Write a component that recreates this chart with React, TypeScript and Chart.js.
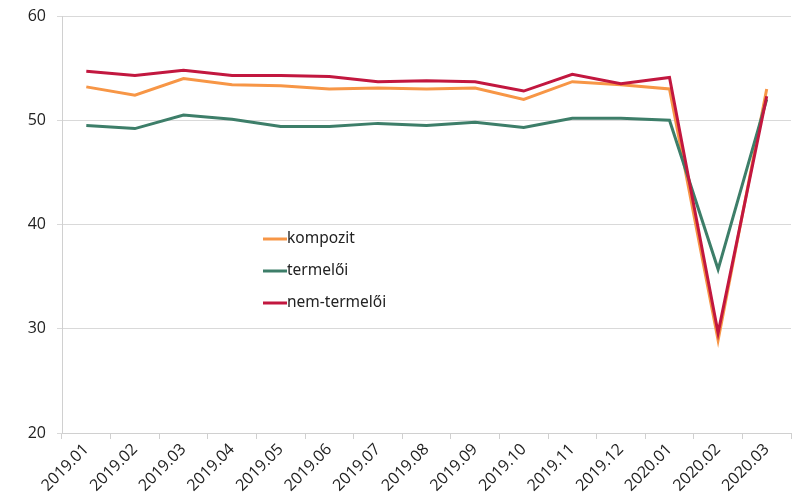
import React, { useEffect, useRef } from "react";
import { Chart, registerables } from "chart.js";

Chart.register(...registerables);

const categories = [
  "2019.01", "2019.02", "2019.03", "2019.04", "2019.05", "2019.06", "2019.07",
  "2019.08", "2019.09", "2019.10", "2019.11", "2019.12", "2020.01", "2020.02", "2020.03",
];
const kompozit = [53.2, 52.4, 54.0, 53.4, 53.3, 53.0, 53.1, 53.0, 53.1, 52.0, 53.7, 53.4, 53.0, 28.9, 53.0];
const termeloi = [49.5, 49.2, 50.5, 50.1, 49.4, 49.4, 49.7, 49.5, 49.8, 49.3, 50.2, 50.2, 50.0, 35.7, 52.0];
const nemTermeloi = [54.7, 54.3, 54.8, 54.3, 54.3, 54.2, 53.7, 53.8, 53.7, 52.8, 54.4, 53.5, 54.1, 29.6, 52.3];
const seriesLabels = ["kompozit", "termelői", "nem-termelői"];
const seriesColors = ["#F79646", "#3D7E69", "#C2173F"];

const legendPlugin = {
  id: "innerLegend",
  afterDraw(chart: any) {
    const ctx = chart.ctx;
    ctx.save();
    ctx.font = "15.5px 'Noto Sans'";
    ctx.textBaseline = "middle";
    ctx.textAlign = "left";
    chart.data.datasets.forEach((ds: any, i: number) => {
      const y = 239 + i * 32;
      ctx.strokeStyle = ds.borderColor;
      ctx.lineWidth = 3;
      ctx.beginPath();
      ctx.moveTo(263, y);
      ctx.lineTo(287, y);
      ctx.stroke();
      ctx.fillStyle = "#222";
      ctx.fillText(ds.label, 287, y);
    });
    ctx.restore();
  },
};

export default function App() {
  const ref = useRef<HTMLCanvasElement | null>(null);
  useEffect(() => {
    if (!ref.current) return;
    const values = [kompozit, termeloi, nemTermeloi];
    const orders = [2, 1, 0];
    const chart = new Chart(ref.current, {
      type: "line",
      data: {
        labels: categories,
        datasets: values.map((d, i) => ({
          label: seriesLabels[i],
          data: d,
          borderColor: seriesColors[i],
          backgroundColor: seriesColors[i],
          borderWidth: 3,
          pointRadius: 0,
          tension: 0,
          fill: false,
          order: orders[i],
        })),
      },
      options: {
        animation: false,
        responsive: true,
        maintainAspectRatio: false,
        layout: { padding: { top: 16, right: 7, left: 0, bottom: 0 } },
        plugins: { legend: { display: false }, tooltip: { enabled: false } },
        scales: {
          x: {
            offset: true,
            afterFit: (s: any) => { s.height = 65; },
            grid: { drawOnChartArea: false, offset: true, tickLength: 6, color: "#d0d0d0" },
            border: { color: "#d0d0d0" },
            ticks: {
              autoSkip: false,
              minRotation: 45,
              maxRotation: 45,
              padding: 1,
              color: "#222",
              font: { family: "'Open Sans'", size: 16 },
            },
          },
          y: {
            min: 20,
            max: 60,
            afterFit: (s: any) => { s.width = 62; s.paddingTop = 0; s.paddingBottom = 0; },
            grid: { color: "#d9d9d9", tickLength: 5 },
            border: { color: "#d0d0d0" },
            ticks: {
              stepSize: 10,
              padding: 11,
              color: "#222",
              font: { family: "'Open Sans'", size: 16 },
            },
          },
        },
      },
      plugins: [legendPlugin],
    });
    return () => chart.destroy();
  }, []);
  return (
    <div style={{ position: "absolute", left: 0, top: 0, width: 798, height: 498, background: "#fff" }}>
      <canvas ref={ref} />
    </div>
  );
}
